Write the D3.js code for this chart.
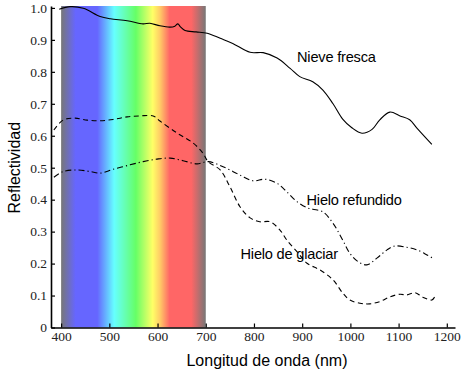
<!DOCTYPE html>
<html>
<head>
<meta charset="utf-8">
<script src="https://cdn.jsdelivr.net/npm/d3@7"></script>
<style>
  body { margin: 0; background: #fff; }
  svg { display: block; }
  .tick text { font-family: "Liberation Serif", "Times New Roman", "DejaVu Serif", serif; }
</style>
</head>
<body>
<figure id="chart" style="margin:0"></figure>
<script>
// wavelengths (nm) and reflectance
const nieveWl  = [396, 419, 446, 481, 502, 537, 570, 584, 605, 626, 636, 642, 648, 657, 680, 703, 730, 756, 792, 819, 848, 875, 895, 922, 943, 964, 984, 1003, 1024, 1045, 1061, 1082, 1103, 1123, 1138, 1169];
const nieveVal = [0.996, 1.004, 0.999, 0.973, 0.966, 0.960, 0.950, 0.952, 0.944, 0.940, 0.943, 0.950, 0.940, 0.929, 0.925, 0.921, 0.905, 0.889, 0.861, 0.860, 0.843, 0.811, 0.785, 0.769, 0.743, 0.700, 0.652, 0.625, 0.608, 0.620, 0.650, 0.674, 0.662, 0.650, 0.624, 0.573];

const glaciarWl  = [385, 404, 429, 454, 481, 508, 537, 564, 591, 605, 640, 674, 694, 705, 730, 750, 771, 792, 812, 833, 854, 868, 890, 910, 937, 964, 984, 999, 1020, 1040, 1061, 1082, 1103, 1117, 1134, 1150, 1169, 1175];
const glaciarVal = [0.618, 0.649, 0.655, 0.649, 0.647, 0.651, 0.659, 0.662, 0.662, 0.646, 0.609, 0.577, 0.546, 0.519, 0.493, 0.441, 0.378, 0.343, 0.331, 0.331, 0.305, 0.274, 0.236, 0.201, 0.180, 0.149, 0.108, 0.086, 0.076, 0.074, 0.081, 0.096, 0.104, 0.102, 0.109, 0.095, 0.086, 0.096];

const refundWl  = [385, 404, 433, 460, 481, 508, 543, 570, 599, 626, 653, 682, 705, 736, 771, 798, 823, 848, 868, 889, 910, 922, 943, 964, 984, 999, 1016, 1034, 1055, 1076, 1092, 1117, 1138, 1159, 1171];
const refundVal = [0.470, 0.488, 0.493, 0.488, 0.483, 0.495, 0.509, 0.519, 0.527, 0.530, 0.522, 0.512, 0.519, 0.503, 0.477, 0.459, 0.464, 0.451, 0.425, 0.394, 0.375, 0.370, 0.362, 0.326, 0.274, 0.232, 0.206, 0.196, 0.217, 0.243, 0.255, 0.251, 0.243, 0.227, 0.217];

const xTicks = [400, 500, 600, 700, 800, 900, 1000, 1100, 1200];
const yTicks = [0, 0.1, 0.2, 0.3, 0.4, 0.5, 0.6, 0.7, 0.8, 0.9, 1.0];

// visible spectrum band
const spectrumWl  = [400, 430, 475, 510, 555, 590, 605, 625, 670, 700];
const spectrumCol = ["#777777", "#6666ff", "#6666ff", "#66ffff", "#66ff66", "#ffff66", "#ffcc66", "#ff6666", "#ff6666", "#777777"];

const W = 463, H = 371;
const margin = {top: 6, right: 8, bottom: 43.5, left: 51};

const svg = d3.select("figure#chart")
  .append("svg")
  .attr("width", W)
  .attr("height", H);

const x = d3.scaleLinear()
  .domain([379, 1217])
  .range([margin.left, W - margin.right]);

const y = d3.scaleLinear()
  .domain([0, 1.006])
  .range([H - margin.bottom, margin.top]);

// gradient for the visible band
const grad = svg.append("defs").append("linearGradient")
  .attr("id", "spec")
  .attr("x1", "0%").attr("x2", "100%")
  .attr("y1", "0%").attr("y2", "0%");
grad.selectAll("stop")
  .data(spectrumWl)
  .enter()
  .append("stop")
  .attr("offset", d => ((d - 400) / 300 * 100) + "%")
  .attr("stop-color", (d, i) => spectrumCol[i]);

svg.append("rect")
  .attr("x", x(400))
  .attr("y", y(1.006))
  .attr("width", x(700) - x(400))
  .attr("height", y(0) - y(1.006))
  .attr("fill", "url(#spec)");

// curves
const line = d3.line()
  .x(d => x(d[0]))
  .y(d => y(d[1]))
  .curve(d3.curveCatmullRom.alpha(0.5));

const series = [
  {wl: nieveWl, val: nieveVal, dash: null},
  {wl: glaciarWl, val: glaciarVal, dash: "5,3.5"},
  {wl: refundWl, val: refundVal, dash: "6,3,1.2,3"}
];

series.forEach(s => {
  svg.append("path")
    .datum(s.wl.map((w, i) => [w, s.val[i]]))
    .attr("fill", "none")
    .attr("stroke", "#000")
    .attr("stroke-width", 1.1)
    .attr("stroke-dasharray", s.dash)
    .attr("d", line);
});

// X axis
const xAxis = svg.append("g")
  .attr("transform", "translate(0," + y(0) + ")")
  .call(d3.axisBottom(x).tickValues(xTicks).tickSizeInner(-4).tickSizeOuter(0).tickPadding(8)
    .tickFormat(d3.format("d")));

// Y axis
const yAxis = svg.append("g")
  .attr("transform", "translate(" + margin.left + ",0)")
  .call(d3.axisLeft(y).tickValues(yTicks).tickSizeInner(-4).tickSizeOuter(0).tickPadding(8)
    .tickFormat(d => d === 0 ? "0" : d3.format(".1f")(d)));

[xAxis, yAxis].forEach(g => {
  g.attr("font-family", "'Liberation Serif', 'Times New Roman', serif").attr("font-size", 13.5);
  g.select(".domain").attr("stroke", "#000").attr("stroke-width", 1.6);
  g.selectAll(".tick line").attr("stroke", "#000").attr("stroke-width", 1.2);
  g.selectAll("text").attr("fill", "#222");
});
yAxis.selectAll("text").attr("x", -4);
xAxis.selectAll("text").attr("dy", "0.78em").attr("y", 3);

// axis titles
svg.append("text")
  .attr("transform", "translate(20," + ((y(0) + y(1)) / 2) + ") rotate(-90)")
  .attr("text-anchor", "middle")
  .style("font-family", "'Liberation Sans', Arial, sans-serif")
  .style("font-size", "16px")
  .text("Reflectividad");

svg.append("text")
  .attr("x", (x(400) + x(1200)) / 2 + 13)
  .attr("y", 366)
  .attr("text-anchor", "middle")
  .style("font-family", "'Liberation Sans', Arial, sans-serif")
  .style("font-size", "16px")
  .text("Longitud de onda (nm)");

// curve labels
const labels = [
  {t: "Nieve fresca", x: 297, y: 62},
  {t: "Hielo refundido", x: 306.5, y: 205},
  {t: "Hielo de glaciar", x: 240.5, y: 258.5}
];
svg.selectAll(".lbl")
  .data(labels)
  .enter()
  .append("text")
  .attr("x", d => d.x)
  .attr("y", d => d.y)
  .style("font-family", "'Liberation Sans', Arial, sans-serif")
  .style("font-size", "14.6px")
  .style("letter-spacing", "-0.2px")
  .text(d => d.t);
</script>
</body>
</html>
